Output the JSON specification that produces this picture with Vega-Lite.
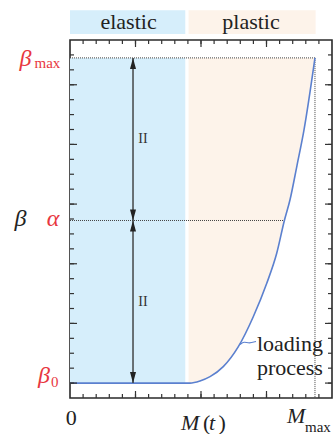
{
  "$schema": "https://vega.github.io/schema/vega-lite/v6.json",
  "width": 262,
  "height": 358,
  "autosize": {"type": "none"},
  "padding": {"left": 70, "top": 40, "right": 2, "bottom": 36},
  "background": "white",
  "config": {
    "view": {"stroke": "#2a2a2a", "strokeWidth": 1.6},
    "font": "Liberation Serif"
  },
  "datasets": {
    "curve": [
      {"m": 0, "b": 0}, {"m": 9.05, "b": 0}, {"m": 9.16, "b": 0}, {"m": 9.92, "b": 0.14},
      {"m": 10.69, "b": 0.43}, {"m": 11.7, "b": 1.1}, {"m": 12.85, "b": 2.44}, {"m": 13.99, "b": 4.45},
      {"m": 15.02, "b": 6.69}, {"m": 15.78, "b": 8.7}, {"m": 16.36, "b": 10.88}, {"m": 16.79, "b": 12.27},
      {"m": 17.33, "b": 14.6}, {"m": 17.86, "b": 16.96}, {"m": 18.7, "b": 21.8}
    ],
    "hook": [
      {"m": 12.98, "b": 2.59}, {"m": 13.28, "b": 2.79}, {"m": 13.66, "b": 2.65}, {"m": 14.2, "b": 2.79}
    ],
    "zones": [
      {"zone": "elastic", "m0": 0, "m1": 8.8},
      {"zone": "plastic", "m0": 9.05, "m1": 18.75}
    ],
    "guides": [
      {"m0": 0, "m1": 18.7, "b0": 21.8, "b1": 21.8},
      {"m0": 0, "m1": 16.36, "b0": 10.9, "b1": 10.9},
      {"m0": 18.7, "m1": 18.7, "b0": 21.8, "b1": -1}
    ],
    "shaft": [{"m": 4.81, "b0": 0, "b1": 21.8}],
    "heads": [
      {"m": 4.81, "b": 21.8, "dir": "up"},
      {"m": 4.81, "b": 10.9, "dir": "down"},
      {"m": 4.81, "b": 10.9, "dir": "up"},
      {"m": 4.81, "b": 0, "dir": "down"}
    ],
    "equal": [{"m": 5.57, "b": 16.35}, {"m": 5.57, "b": 5.45}],
    "mticks": [
      {"v": 1, "major": false}, {"v": 2, "major": false}, {"v": 3, "major": false}, {"v": 4, "major": false},
      {"v": 5, "major": true}, {"v": 6, "major": false}, {"v": 7, "major": false}, {"v": 8, "major": false},
      {"v": 9, "major": false}, {"v": 10, "major": true}, {"v": 11, "major": false}, {"v": 12, "major": false},
      {"v": 13, "major": false}, {"v": 14, "major": false}, {"v": 15, "major": true}, {"v": 16, "major": false},
      {"v": 17, "major": false}, {"v": 18, "major": false}, {"v": 19, "major": false}
    ],
    "bticks": [
      {"v": 0, "major": true}, {"v": 1, "major": false}, {"v": 2, "major": false}, {"v": 3, "major": false},
      {"v": 4, "major": true}, {"v": 5, "major": false}, {"v": 6, "major": false}, {"v": 7, "major": false},
      {"v": 8, "major": true}, {"v": 9, "major": false}, {"v": 10, "major": false}, {"v": 11, "major": false},
      {"v": 12, "major": true}, {"v": 13, "major": false}, {"v": 14, "major": false}, {"v": 15, "major": false},
      {"v": 16, "major": true}, {"v": 17, "major": false}, {"v": 18, "major": false}, {"v": 19, "major": false},
      {"v": 20, "major": true}, {"v": 21, "major": false}, {"v": 22, "major": false}
    ],
    "labels": [
      {"t": "elastic", "m": 4.47, "b": 23.72, "kind": "zone"},
      {"t": "plastic", "m": 13.82, "b": 23.72, "kind": "zone"},
      {"t": "β", "m": -3.4, "b": 21.26, "kind": "parameter"},
      {"t": "α", "m": -1.3, "b": 10.56, "kind": "parameter"},
      {"t": "β", "m": -1.98, "b": 0.0, "kind": "parameter"},
      {"t": "max", "m": -2.71, "b": 21.1, "kind": "parameter_sub"},
      {"t": "0", "m": -1.45, "b": -0.24, "kind": "parameter_sub"},
      {"t": "β", "m": -3.78, "b": 10.56, "kind": "variable_c"},
      {"t": "M", "m": 8.47, "b": -3.15, "kind": "variable"},
      {"t": "t", "m": 10.61, "b": -3.15, "kind": "variable"},
      {"t": "M", "m": 16.56, "b": -2.7, "kind": "variable"},
      {"t": "(", "m": 10.15, "b": -3.15, "kind": "word"},
      {"t": ")", "m": 11.34, "b": -3.15, "kind": "word"},
      {"t": "loading", "m": 14.27, "b": 2.15, "kind": "word"},
      {"t": "process", "m": 14.27, "b": 0.54, "kind": "word"},
      {"t": "0", "m": 0.09, "b": -2.81, "kind": "tick"},
      {"t": "max", "m": 17.94, "b": -3.26, "kind": "variable_sub"}
    ]
  },
  "layer": [
    {
      "data": {"name": "zones"},
      "transform": [{"filter": "datum.zone === 'elastic'"}],
      "mark": {"type": "rect", "color": "#d6eefb"},
      "encoding": {
        "x": {"field": "m0", "type": "quantitative", "scale": {"domain": [0, 20], "nice": false, "zero": false}, "axis": null},
        "x2": {"field": "m1"},
        "y": {"datum": 0, "type": "quantitative", "scale": {"domain": [-1, 23], "nice": false, "zero": false}, "axis": null},
        "y2": {"datum": 21.8}
      }
    },
    {
      "data": {"name": "curve"},
      "transform": [{"filter": "datum.m >= 9.05"}],
      "mark": {"type": "area", "color": "#fdf3ea", "interpolate": "monotone"},
      "encoding": {
        "x": {"field": "m", "type": "quantitative", "scale": {"domain": [0, 20], "nice": false, "zero": false}, "axis": null},
        "y": {"field": "b", "type": "quantitative", "scale": {"domain": [-1, 23], "nice": false, "zero": false}, "axis": null},
        "y2": {"datum": 21.8}
      }
    },
    {
      "data": {"name": "zones"},
      "mark": {"type": "rect"},
      "encoding": {
        "x": {"field": "m0", "type": "quantitative", "scale": {"domain": [0, 20], "nice": false, "zero": false}, "axis": null},
        "x2": {"field": "m1"},
        "y": {"datum": 23.4, "type": "quantitative", "scale": {"domain": [-1, 23], "nice": false, "zero": false}, "axis": null},
        "y2": {"datum": 25.0},
        "color": {"field": "zone", "type": "nominal", "scale": {"domain": ["elastic", "plastic"], "range": ["#d6eefb", "#fdf3ea"]}, "legend": null}
      }
    },
    {
      "data": {"name": "guides"},
      "mark": {"type": "rule", "color": "#444444", "strokeWidth": 1, "strokeDash": [1, 1]},
      "encoding": {
        "x": {"field": "m0", "type": "quantitative", "scale": {"domain": [0, 20], "nice": false, "zero": false}, "axis": null},
        "x2": {"field": "m1"},
        "y": {"field": "b0", "type": "quantitative", "scale": {"domain": [-1, 23], "nice": false, "zero": false}, "axis": null},
        "y2": {"field": "b1"}
      }
    },
    {
      "data": {"name": "curve"},
      "mark": {"type": "line", "color": "#5b80cf", "strokeWidth": 1.6, "interpolate": "monotone"},
      "encoding": {
        "x": {"field": "m", "type": "quantitative", "scale": {"domain": [0, 20], "nice": false, "zero": false}, "axis": null},
        "y": {"field": "b", "type": "quantitative", "scale": {"domain": [-1, 23], "nice": false, "zero": false}, "axis": null}
      }
    },
    {
      "data": {"name": "hook"},
      "mark": {"type": "line", "color": "#5b80cf", "strokeWidth": 1.1, "interpolate": "basis"},
      "encoding": {
        "x": {"field": "m", "type": "quantitative", "scale": {"domain": [0, 20], "nice": false, "zero": false}, "axis": null},
        "y": {"field": "b", "type": "quantitative", "scale": {"domain": [-1, 23], "nice": false, "zero": false}, "axis": null}
      }
    },
    {
      "data": {"name": "mticks"},
      "mark": {"type": "rule", "color": "#333333", "strokeWidth": 1.2, "y2Offset": -4},
      "encoding": {
        "x": {"field": "v", "type": "quantitative", "scale": {"domain": [0, 20], "nice": false, "zero": false}, "axis": null},
        "y": {"datum": -1, "type": "quantitative", "scale": {"domain": [-1, 23], "nice": false, "zero": false}, "axis": null},
        "y2": {"datum": -1}
      }
    },
    {
      "data": {"name": "mticks"},
      "transform": [{"filter": "datum.major"}],
      "mark": {"type": "rule", "color": "#333333", "strokeWidth": 1.2, "y2Offset": -7},
      "encoding": {
        "x": {"field": "v", "type": "quantitative", "scale": {"domain": [0, 20], "nice": false, "zero": false}, "axis": null},
        "y": {"datum": -1, "type": "quantitative", "scale": {"domain": [-1, 23], "nice": false, "zero": false}, "axis": null},
        "y2": {"datum": -1}
      }
    },
    {
      "data": {"name": "mticks"},
      "mark": {"type": "rule", "color": "#333333", "strokeWidth": 1.2, "y2Offset": 4},
      "encoding": {
        "x": {"field": "v", "type": "quantitative", "scale": {"domain": [0, 20], "nice": false, "zero": false}, "axis": null},
        "y": {"datum": 23, "type": "quantitative", "scale": {"domain": [-1, 23], "nice": false, "zero": false}, "axis": null},
        "y2": {"datum": 23}
      }
    },
    {
      "data": {"name": "mticks"},
      "transform": [{"filter": "datum.major"}],
      "mark": {"type": "rule", "color": "#333333", "strokeWidth": 1.2, "y2Offset": 7},
      "encoding": {
        "x": {"field": "v", "type": "quantitative", "scale": {"domain": [0, 20], "nice": false, "zero": false}, "axis": null},
        "y": {"datum": 23, "type": "quantitative", "scale": {"domain": [-1, 23], "nice": false, "zero": false}, "axis": null},
        "y2": {"datum": 23}
      }
    },
    {
      "data": {"name": "bticks"},
      "mark": {"type": "rule", "color": "#333333", "strokeWidth": 1.2, "x2Offset": 4},
      "encoding": {
        "y": {"field": "v", "type": "quantitative", "scale": {"domain": [-1, 23], "nice": false, "zero": false}, "axis": null},
        "x": {"datum": 0, "type": "quantitative", "scale": {"domain": [0, 20], "nice": false, "zero": false}, "axis": null},
        "x2": {"datum": 0}
      }
    },
    {
      "data": {"name": "bticks"},
      "transform": [{"filter": "datum.major"}],
      "mark": {"type": "rule", "color": "#333333", "strokeWidth": 1.2, "x2Offset": 7},
      "encoding": {
        "y": {"field": "v", "type": "quantitative", "scale": {"domain": [-1, 23], "nice": false, "zero": false}, "axis": null},
        "x": {"datum": 0, "type": "quantitative", "scale": {"domain": [0, 20], "nice": false, "zero": false}, "axis": null},
        "x2": {"datum": 0}
      }
    },
    {
      "data": {"name": "bticks"},
      "mark": {"type": "rule", "color": "#333333", "strokeWidth": 1.2, "x2Offset": -4},
      "encoding": {
        "y": {"field": "v", "type": "quantitative", "scale": {"domain": [-1, 23], "nice": false, "zero": false}, "axis": null},
        "x": {"datum": 20, "type": "quantitative", "scale": {"domain": [0, 20], "nice": false, "zero": false}, "axis": null},
        "x2": {"datum": 20}
      }
    },
    {
      "data": {"name": "bticks"},
      "transform": [{"filter": "datum.major"}],
      "mark": {"type": "rule", "color": "#333333", "strokeWidth": 1.2, "x2Offset": -7},
      "encoding": {
        "y": {"field": "v", "type": "quantitative", "scale": {"domain": [-1, 23], "nice": false, "zero": false}, "axis": null},
        "x": {"datum": 20, "type": "quantitative", "scale": {"domain": [0, 20], "nice": false, "zero": false}, "axis": null},
        "x2": {"datum": 20}
      }
    },
    {
      "data": {"name": "shaft"},
      "mark": {"type": "rule", "color": "#3a3a3a", "strokeWidth": 1.4},
      "encoding": {
        "x": {"field": "m", "type": "quantitative", "scale": {"domain": [0, 20], "nice": false, "zero": false}, "axis": null},
        "y": {"field": "b0", "type": "quantitative", "scale": {"domain": [-1, 23], "nice": false, "zero": false}, "axis": null},
        "y2": {"field": "b1"}
      }
    },
    {
      "data": {"name": "heads"},
      "mark": {"type": "point", "filled": true, "color": "#222222", "opacity": 1, "size": 121},
      "encoding": {
        "x": {"field": "m", "type": "quantitative", "scale": {"domain": [0, 20], "nice": false, "zero": false}, "axis": null},
        "y": {"field": "b", "type": "quantitative", "scale": {"domain": [-1, 23], "nice": false, "zero": false}, "axis": null},
        "shape": {"field": "dir", "type": "nominal", "scale": {"domain": ["up", "down"], "range": ["M0,0L-0.55,2L0.55,2Z", "M0,0L-0.55,-2L0.55,-2Z"]}, "legend": null}
      }
    },
    {
      "data": {"name": "equal"},
      "mark": {"type": "text", "text": "II", "fontSize": 14, "color": "#333333", "baseline": "middle", "align": "center"},
      "encoding": {
        "x": {"field": "m", "type": "quantitative", "scale": {"domain": [0, 20], "nice": false, "zero": false}, "axis": null},
        "y": {"field": "b", "type": "quantitative", "scale": {"domain": [-1, 23], "nice": false, "zero": false}, "axis": null}
      }
    },
    {
      "data": {"name": "labels"},
      "transform": [{"filter": "datum.kind === 'zone' || datum.kind === 'tick'"}],
      "mark": {"type": "text", "fontSize": 22, "color": "#222222", "align": "center", "baseline": "alphabetic"},
      "encoding": {
        "x": {"field": "m", "type": "quantitative", "scale": {"domain": [0, 20], "nice": false, "zero": false}, "axis": null},
        "y": {"field": "b", "type": "quantitative", "scale": {"domain": [-1, 23], "nice": false, "zero": false}, "axis": null},
        "text": {"field": "t"}
      }
    },
    {
      "data": {"name": "labels"},
      "transform": [{"filter": "datum.kind === 'word'"}],
      "mark": {"type": "text", "fontSize": 22, "color": "#222222", "align": "left", "baseline": "alphabetic"},
      "encoding": {
        "x": {"field": "m", "type": "quantitative", "scale": {"domain": [0, 20], "nice": false, "zero": false}, "axis": null},
        "y": {"field": "b", "type": "quantitative", "scale": {"domain": [-1, 23], "nice": false, "zero": false}, "axis": null},
        "text": {"field": "t"}
      }
    },
    {
      "data": {"name": "labels"},
      "transform": [{"filter": "datum.kind === 'variable'"}],
      "mark": {"type": "text", "fontSize": 22, "fontStyle": "italic", "color": "#222222", "align": "left", "baseline": "alphabetic"},
      "encoding": {
        "x": {"field": "m", "type": "quantitative", "scale": {"domain": [0, 20], "nice": false, "zero": false}, "axis": null},
        "y": {"field": "b", "type": "quantitative", "scale": {"domain": [-1, 23], "nice": false, "zero": false}, "axis": null},
        "text": {"field": "t"}
      }
    },
    {
      "data": {"name": "labels"},
      "transform": [{"filter": "datum.kind === 'variable_c'"}],
      "mark": {"type": "text", "fontSize": 24, "fontStyle": "italic", "color": "#222222", "align": "center", "baseline": "alphabetic"},
      "encoding": {
        "x": {"field": "m", "type": "quantitative", "scale": {"domain": [0, 20], "nice": false, "zero": false}, "axis": null},
        "y": {"field": "b", "type": "quantitative", "scale": {"domain": [-1, 23], "nice": false, "zero": false}, "axis": null},
        "text": {"field": "t"}
      }
    },
    {
      "data": {"name": "labels"},
      "transform": [{"filter": "datum.kind === 'variable_sub'"}],
      "mark": {"type": "text", "fontSize": 15, "color": "#222222", "align": "left", "baseline": "alphabetic"},
      "encoding": {
        "x": {"field": "m", "type": "quantitative", "scale": {"domain": [0, 20], "nice": false, "zero": false}, "axis": null},
        "y": {"field": "b", "type": "quantitative", "scale": {"domain": [-1, 23], "nice": false, "zero": false}, "axis": null},
        "text": {"field": "t"}
      }
    },
    {
      "data": {"name": "labels"},
      "transform": [{"filter": "datum.kind === 'parameter'"}],
      "mark": {"type": "text", "fontSize": 24, "fontStyle": "italic", "color": "#e8373f", "align": "center", "baseline": "alphabetic"},
      "encoding": {
        "x": {"field": "m", "type": "quantitative", "scale": {"domain": [0, 20], "nice": false, "zero": false}, "axis": null},
        "y": {"field": "b", "type": "quantitative", "scale": {"domain": [-1, 23], "nice": false, "zero": false}, "axis": null},
        "text": {"field": "t"}
      }
    },
    {
      "data": {"name": "labels"},
      "transform": [{"filter": "datum.kind === 'parameter_sub'"}],
      "mark": {"type": "text", "fontSize": 15, "color": "#e8373f", "align": "left", "baseline": "alphabetic"},
      "encoding": {
        "x": {"field": "m", "type": "quantitative", "scale": {"domain": [0, 20], "nice": false, "zero": false}, "axis": null},
        "y": {"field": "b", "type": "quantitative", "scale": {"domain": [-1, 23], "nice": false, "zero": false}, "axis": null},
        "text": {"field": "t"}
      }
    }
  ]
}
